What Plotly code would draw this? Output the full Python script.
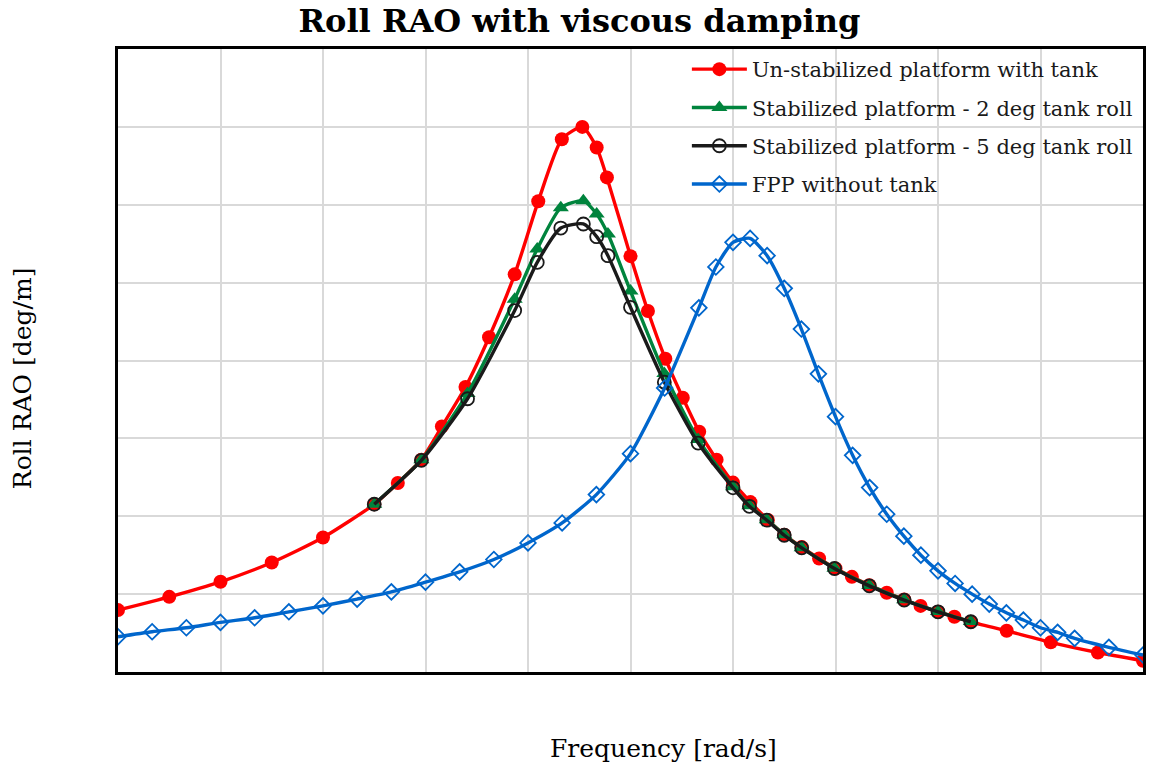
import plotly.graph_objects as go

# Frequency [rad/s] and roll RAO [deg/m] for each configuration
freq_unstab = [0.100, 0.150, 0.200, 0.250, 0.300, 0.350, 0.373, 0.396, 0.416, 0.439,
               0.462, 0.487, 0.510, 0.533, 0.553, 0.567, 0.577, 0.600, 0.617, 0.634,
               0.651, 0.667, 0.684, 0.700, 0.717, 0.734, 0.750, 0.767, 0.784, 0.800,
               0.816, 0.833, 0.850, 0.867, 0.883, 0.900, 0.916, 0.932, 0.967, 1.010,
               1.056, 1.100]
rao_unstab = [0.795, 0.965, 1.158, 1.406, 1.727, 2.154, 2.427, 2.727, 3.154, 3.659,
              4.299, 5.106, 6.044, 6.842, 7.000, 6.736, 6.351, 5.340, 4.635, 4.023,
              3.522, 3.086, 2.727, 2.432, 2.182, 1.951, 1.763, 1.604, 1.458, 1.329,
              1.222, 1.115, 1.017, 0.932, 0.849, 0.773, 0.709, 0.645, 0.529, 0.381,
              0.250, 0.145]

freq_stab = [0.350, 0.396, 0.441, 0.487, 0.509, 0.532, 0.554, 0.567, 0.578, 0.600,
             0.633, 0.666, 0.700, 0.716, 0.733, 0.750, 0.767, 0.799, 0.833, 0.867,
             0.900, 0.932]
rao_stab_2deg = [2.154, 2.724, 3.577, 4.788, 5.432, 5.962, 6.051, 5.881, 5.624, 4.891,
                 3.833, 2.987, 2.378, 2.135, 1.955, 1.763, 1.596, 1.333, 1.112, 0.927,
                 0.776, 0.647]
rao_stab_5deg = [2.154, 2.718, 3.509, 4.641, 5.260, 5.701, 5.753, 5.590, 5.346, 4.683,
                 3.722, 2.940, 2.365, 2.128, 1.949, 1.756, 1.594, 1.329, 1.106, 0.923,
                 0.773, 0.645]

freq_fpp = [0.1000, 0.1333, 0.1667, 0.2000, 0.2333, 0.2667, 0.3000, 0.3333, 0.3667, 0.4000,
            0.4333, 0.4667, 0.5000, 0.5333, 0.5667, 0.6000, 0.6333, 0.6667, 0.6833, 0.7000,
            0.7167, 0.7333, 0.7500, 0.7667, 0.7833, 0.8000, 0.8167, 0.8333, 0.8500, 0.8667,
            0.8833, 0.9000, 0.9167, 0.9333, 0.9500, 0.9667, 0.9833, 1.0000, 1.0167, 1.0333,
            1.0667, 1.1000]
rao_fpp = [0.453, 0.517, 0.568, 0.637, 0.696, 0.773, 0.850, 0.936, 1.029, 1.154,
           1.286, 1.445, 1.658, 1.914, 2.278, 2.804, 3.647, 4.676, 5.201, 5.517,
           5.568, 5.346, 4.927, 4.404, 3.829, 3.279, 2.782, 2.368, 2.026, 1.744,
           1.500, 1.299, 1.137, 1.000, 0.872, 0.760, 0.667, 0.568, 0.509, 0.432,
           0.317, 0.218]

FONT = "DejaVu Serif"

fig = go.Figure()

series = [
    ("Un-stabilized platform with tank", freq_unstab, rao_unstab, "#FF0000",
     dict(symbol="circle", size=14, color="#FF0000")),
    ("Stabilized platform - 2 deg tank roll", freq_stab, rao_stab_2deg, "#00843D",
     dict(symbol="triangle-up", size=14, color="#00843D")),
    ("Stabilized platform - 5 deg tank roll", freq_stab, rao_stab_5deg, "#1A1A1A",
     dict(symbol="circle-open", size=13, color="#1A1A1A", line=dict(width=1.8))),
    ("FPP without tank", freq_fpp, rao_fpp, "#0066CC",
     dict(symbol="diamond-open", size=12, color="#0066CC", line=dict(width=1.8))),
]

for i, (name, xs, ys, col, mk) in enumerate(series):
    fig.add_trace(go.Scatter(
        x=xs, y=ys, name=name, mode="lines+markers",
        line=dict(color=col, width=3.4, shape="spline", smoothing=0.6),
        marker=mk, legendgroup=f"g{i}", cliponaxis=True,
    ))

axis_common = dict(
    showline=True, linecolor="black", linewidth=2.5, mirror=True,
    showgrid=True, gridcolor="#D9D9D9", gridwidth=2,
    showticklabels=False, ticks="", zeroline=False,
)

fig.update_layout(
    width=1152, height=769,
    paper_bgcolor="white", plot_bgcolor="white",
    margin=dict(l=118, r=6, t=49, b=97),
    font=dict(family=FONT, color="black"),
    title=dict(text="<b>Roll RAO with viscous damping</b>", x=0.503, xref="container",
               xanchor="center", y=0.973, yanchor="middle",
               font=dict(family=FONT, size=32, color="black")),
    xaxis=dict(range=[0.1, 1.1], dtick=0.1, tick0=0.1, **axis_common),
    yaxis=dict(range=[0, 8], dtick=1, **axis_common),
    legend=dict(x=0.995, y=1.0, xanchor="right", yanchor="top",
                bgcolor="rgba(0,0,0,0)", font=dict(family=FONT, size=21, color="#1A1A1A"),
                traceorder="grouped", tracegroupgap=8, itemwidth=55),
    showlegend=True,
    annotations=[
        dict(text="Frequency [rad/s]", xref="paper", yref="paper", x=0.532, y=-0.123,
             xanchor="center", yanchor="middle", showarrow=False,
             font=dict(family=FONT, size=25, color="black")),
        dict(text="Roll RAO [deg/m]", xref="paper", yref="paper", x=-0.0925, y=0.472,
             xanchor="center", yanchor="middle", textangle=-90, showarrow=False,
             font=dict(family=FONT, size=25, color="black")),
    ],
)

fig.write_html("out.html")
